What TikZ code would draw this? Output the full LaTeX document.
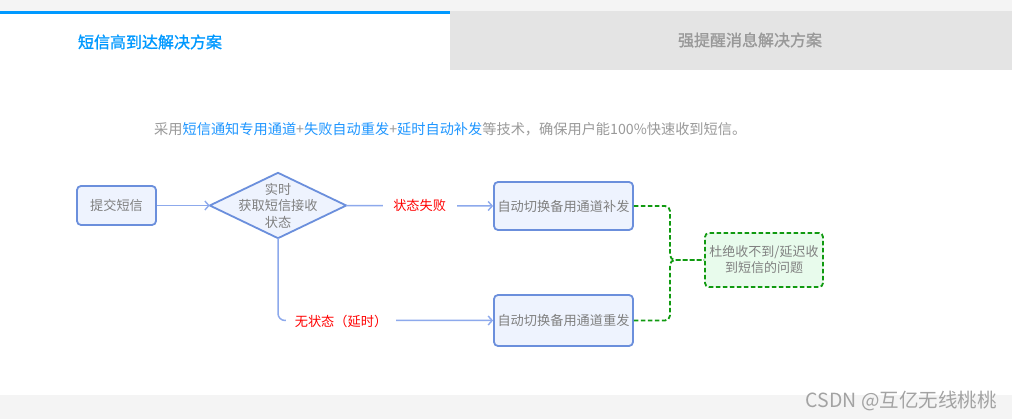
\documentclass[tikz,border=0pt]{standalone}
\usepackage{fontspec}
\setmainfont{Noto Sans CJK SC}
\newfontfamily\titlefont[AutoFakeBold=1.2]{Noto Sans CJK SC}
\usetikzlibrary{arrows.meta}
\definecolor{stripgray}{HTML}{F4F4F4}
\definecolor{tabgray}{HTML}{E4E4E4}
\definecolor{tabblue}{HTML}{0099FF}
\definecolor{tabtxt}{HTML}{999999}
\definecolor{desctxt}{HTML}{999999}
\definecolor{descblue}{HTML}{1E96FF}
\definecolor{boxline}{HTML}{6B8FDC}
\definecolor{boxfill}{HTML}{EEF3FE}
\definecolor{arrowc}{HTML}{8DA9EC}
\definecolor{nodetxt}{HTML}{808080}
\definecolor{greenc}{HTML}{109A10}
\definecolor{greenfill}{HTML}{E8FBEC}
\definecolor{labred}{HTML}{FF0000}
\definecolor{wmark}{HTML}{A3A3A3}
\tikzset{
  stepbox/.style={draw=boxline, fill=boxfill, line width=1.8pt, rounded corners=4pt,
    text=nodetxt, font=\fontsize{13.2}{16}\selectfont, inner sep=0pt, align=center},
  flowline/.style={draw=arrowc, line width=1.5pt, -{Straight Barb[length=4pt,width=9pt,line width=1.4pt]}},
  edgelab/.style={fill=white, text=labred, font=\fontsize{13.2}{16}\selectfont, inner sep=0pt},
  greendash/.style={draw=greenc, line width=1.8pt, dash pattern=on 4.5pt off 2.5pt, rounded corners=5pt},
}
\begin{document}
\begin{tikzpicture}[x=1pt,y=-1pt]
\useasboundingbox (0,0) rectangle (1012,419);
% background strips and tabs
\fill[white] (0,0) rectangle (1012,419);
\fill[stripgray] (0,0) rectangle (1012,11);
\fill[stripgray] (0,395) rectangle (1012,419);
\fill[tabgray] (450,11) rectangle (1012,70);
\fill[tabblue] (0,11) rectangle (450,14);
\node (tab1) at (150,42) {\titlefont\fontsize{16}{18}\selectfont\color{tabblue}\textbf{短信高到达解决方案}};
\node (tab2) at (750,40) {\titlefont\fontsize{16}{18}\selectfont\color{tabtxt}\textbf{强提醒消息解决方案}};
% description
\node[anchor=west, inner sep=0pt, font=\fontsize{14.2}{16}\selectfont, text=desctxt] (desc) at (154,129)
  {采用{\color{descblue}短信通知专用通道}+{\color{descblue}失败自动重发}+{\color{descblue}延时自动补发}等技术，确保用户能100\%快速收到短信。};
% nodes
\node[stepbox, minimum width=79pt, minimum height=39pt] (submit) at (116.5,205.5) {提交短信};
\node[inner sep=0pt, minimum width=136pt, minimum height=65pt] (dia) at (278,205.5) {};
\draw[draw=boxline, fill=boxfill, line width=1.8pt, line join=round]
  (dia.west) -- (dia.north) -- (dia.east) -- (dia.south) -- cycle;
\node[inner sep=0pt, text=nodetxt, font=\fontsize{13.2}{16.5}\selectfont, align=center] (diatext) at (dia) {实时\\获取短信接收\\状态};
\node[stepbox, minimum width=139pt, minimum height=48pt] (fill) at (563.5,206) {自动切换备用通道补发};
\node[stepbox, minimum width=139pt, minimum height=51pt] (resend) at (563.5,320.5) {自动切换备用通道重发};
\node[draw=greenc, fill=greenfill, line width=1.8pt, dash pattern=on 4.5pt off 2.5pt, rounded corners=4pt,
      minimum width=118pt, minimum height=54pt, inner sep=0pt, align=center, text=nodetxt,
      font=\fontsize{13}{16}\selectfont] (result) at (764,260) {杜绝收不到/延迟收\\到短信的问题};
% connectors
\draw[flowline] (submit.east) -- (dia.west);
\draw[flowline] (dia.east) -- node[edgelab, minimum width=74pt, minimum height=16pt] (lab1) {状态失败} (fill.west);
\draw[flowline, rounded corners=7pt] (dia.south) |- (resend.west);
\node[edgelab, minimum width=110pt, minimum height=16pt] (lab2) at (341,321) {无状态（延时）};
\coordinate (jx) at (670,260);
\draw[greendash] (fill.east) -| (jx) -- (result.west);
\draw[greendash] (resend.east) -| (jx) -- (result.west);
% watermark
\node[anchor=east, inner sep=0pt, text=wmark, font=\fontsize{19.5}{22}\selectfont] (wm) at (997,401) {CSDN @互亿无线桃桃};
\end{tikzpicture}
\end{document}
